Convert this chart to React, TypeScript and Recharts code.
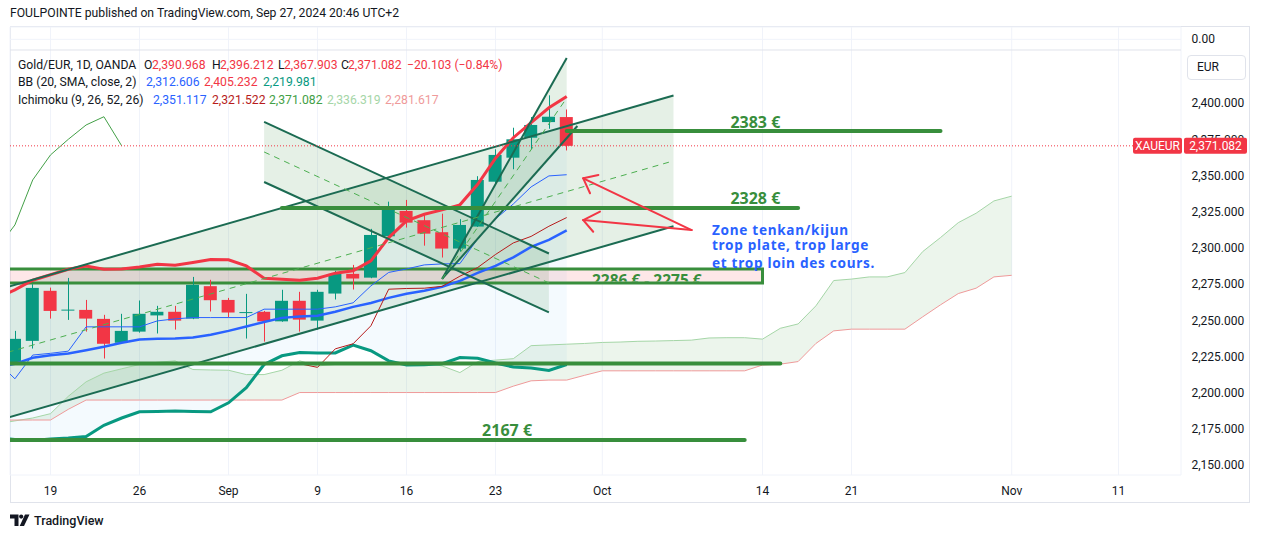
import React from "react";
import {
  ComposedChart,
  Bar,
  Line,
  Area,
  XAxis,
  YAxis,
  CartesianGrid,
  ReferenceLine,
  ReferenceArea,
  ReferenceDot,
} from "recharts";

const FONT = "Roboto, 'Noto Sans', Arial, sans-serif";
const BOLD_FONT = "'Noto Sans', 'Open Sans', sans-serif";
const TXT = "#131722";
const UP = "#089981";
const DOWN = "#F23645";
const LEVEL_GREEN = "#388E3C";
const CH_LINE = "#1b6b52";
const CH_FILL = "rgba(56,142,60,0.13)";

// ---------- data (trading-day index: 0 = Mon 19 Aug 2024) ----------
const candleDays = [-2, -1, 0, 1, 2, 3, 4, 5, 6, 7, 8, 9, 10, 11, 12, 13, 14, 15, 16, 17, 18, 19, 20, 21, 22, 23, 24, 25, 26, 27, 28, 29];
const opens = [2221.6, 2236.3, 2270.9, 2257.5, 2257.7, 2251.5, 2235.0, 2242.7, 2253.9, 2256.4, 2251.7, 2274.1, 2264.6, 2255.8, 2256.4, 2249.8, 2264.0, 2250.3, 2269.0, 2282.6, 2280.0, 2308.6, 2326.1, 2319.7, 2311.4, 2300.1, 2315.3, 2346.3, 2362.9, 2376.7, 2387.5, 2390.968];
const highs = [2243.2, 2275.5, 2273.1, 2279.8, 2264.6, 2254.3, 2255.0, 2264.2, 2260.5, 2260.5, 2280.5, 2278.5, 2266.0, 2268.8, 2257.0, 2271.6, 2270.2, 2271.6, 2284.7, 2288.8, 2313.7, 2332.5, 2333.7, 2323.8, 2324.2, 2320.4, 2350.1, 2368.7, 2383.6, 2391.0, 2406.0, 2396.212];
const lows = [2219.8, 2231.0, 2251.7, 2250.8, 2242.7, 2224.1, 2234.5, 2242.0, 2241.4, 2244.1, 2251.3, 2256.6, 2252.4, 2237.9, 2235.8, 2249.5, 2242.7, 2244.1, 2264.9, 2271.8, 2279.6, 2308.0, 2314.6, 2302.1, 2293.9, 2298.0, 2315.0, 2344.1, 2354.9, 2368.7, 2382.9, 2367.903];
const closes = [2237.7, 2272.9, 2257.0, 2257.9, 2251.7, 2234.3, 2243.2, 2255.0, 2256.4, 2250.3, 2275.0, 2264.4, 2255.9, 2256.2, 2249.8, 2264.0, 2251.0, 2270.2, 2282.6, 2279.4, 2309.5, 2327.5, 2318.0, 2310.4, 2300.1, 2316.4, 2347.5, 2364.8, 2375.6, 2385.5, 2391.2, 2371.082];

const indDays = [-3, -2, -1, 0, 1, 2, 3, 4, 5, 6, 7, 8, 9, 10, 11, 12, 13, 14, 15, 16, 17, 18, 19, 20, 21, 22, 23, 24, 25, 26, 27, 28, 29];
const bbUpper = [2266, 2271.5, 2278.2, 2282, 2285.8, 2288.1, 2285.8, 2286, 2287.4, 2289.3, 2288.5, 2290.5, 2292.5, 2292.3, 2288.1, 2279.6, 2278.9, 2278.2, 2279.6, 2283.1, 2284.7, 2291.6, 2307.7, 2319.2, 2323.8, 2326.8, 2330.3, 2344.5, 2362.5, 2376.7, 2387.1, 2397.4, 2405.232];
const bbBasis = [2218, 2220.4, 2224.6, 2226.3, 2227.6, 2229.8, 2232.2, 2235, 2237.2, 2237.7, 2238, 2238.7, 2240.5, 2243.2, 2246.2, 2249.4, 2252.2, 2253.1, 2253.6, 2256.4, 2259.8, 2262.5, 2266.0, 2268.8, 2270.9, 2273.6, 2277.8, 2283.3, 2288.1, 2294.0, 2301.2, 2306.1, 2312.606];
const bbLower = [2169, 2168.2, 2167.5, 2168.5, 2169.2, 2170.2, 2178, 2183, 2187.3, 2187.5, 2187.8, 2187.5, 2187.3, 2193.5, 2204, 2220, 2226, 2228.3, 2228, 2228, 2233.4, 2229.5, 2222.5, 2219.6, 2219.8, 2220.5, 2224.8, 2224.3, 2221, 2218.2, 2217.5, 2215.8, 2219.981];
const tenkan = [2222, 2210.1, 2226.5, 2227.7, 2229.2, 2246.0, 2246.0, 2246.0, 2246.0, 2250.1, 2251.5, 2252.4, 2252.4, 2252.4, 2252.4, 2258.2, 2258.2, 2258.2, 2258.2, 2259.8, 2262.6, 2274.3, 2283.6, 2286.0, 2288.8, 2289.5, 2289.7, 2306.8, 2320.6, 2330.9, 2342.7, 2350.3, 2351.117];
const kijun = [2220.5, 2220.5, 2220.5, 2220.5, 2220.5, 2220.5, 2220.5, 2220.5, 2220.5, 2220.5, 2220.5, 2220.5, 2220.5, 2220.5, 2220.5, 2220.5, 2220.5, 2220.5, 2218, 2230.8, 2234.3, 2246.7, 2272, 2272.5, 2272.7, 2274, 2281, 2287, 2296, 2304, 2308.5, 2315.5, 2321.522];

const lagDays = [-3, -2, -1, 0, 1, 2, 3, 4];
const lagging = [2300.1, 2316.4, 2347.5, 2364.8, 2375.6, 2385.5, 2391.2, 2371.082];

const cloudDays = [-3, -2, -1, 0, 1, 2, 3, 4, 5, 6, 7, 8, 9, 10, 11, 12, 13, 14, 15, 16, 17, 18, 19, 20, 21, 22, 23, 24, 25, 26, 27, 28, 29, 30, 31, 32, 33, 34, 35, 36, 37, 38, 39, 40, 41, 42, 43, 44, 45, 46, 47, 48, 49, 50, 51, 52, 53, 54];
const spanA = [2179, 2181, 2183, 2186, 2198, 2208, 2214, 2217, 2220, 2221.5, 2222.5, 2216.5, 2216.2, 2216, 2213, 2213, 2216, 2222.5, 2219, 2220, 2220, 2220.5, 2220.5, 2221, 2221, 2219, 2214.4, 2222, 2223, 2224, 2233, 2233.5, 2234, 2234.5, 2235.2, 2235.5, 2236, 2236.2, 2236.5, 2236.8, 2238.3, 2238.5, 2238.5, 2237.5, 2245, 2248, 2260.5, 2278, 2279, 2280.5, 2280.5, 2283.5, 2298, 2307.7, 2318, 2324.5, 2333, 2336.319];
const spanB = [2181.6, 2181.6, 2181.6, 2181.6, 2189, 2195.4, 2195.4, 2195.4, 2195.4, 2195.4, 2195.4, 2195.4, 2195.4, 2195.4, 2195.4, 2195.4, 2195.4, 2200.6, 2200.6, 2200.6, 2200.6, 2200.6, 2200.6, 2200.6, 2200.6, 2200.6, 2200.6, 2200.6, 2200.6, 2205, 2208.7, 2209.2, 2209.2, 2212.5, 2215.6, 2215.6, 2215.6, 2215.6, 2215.6, 2215.6, 2215.6, 2215.6, 2215.6, 2219.6, 2220.2, 2222, 2234.5, 2243.2, 2244.4, 2244.4, 2244.4, 2244.4, 2252.9, 2261.2, 2269, 2272.7, 2280.5, 2281.617];

const xTicks = [0, 5, 10, 15, 20, 25, 31, 40, 45, 54, 60];
const xTickLabels = ["19", "26", "Sep", "9", "16", "23", "Oct", "14", "21", "Nov", "11"];
const yTicks = [2150, 2175, 2200, 2225, 2250, 2275, 2300, 2325, 2350, 2375, 2400];
const lastPrice = 2371.082;
const upperPaneZero = 2444.7;
const paneSeparator = 2437.32;

// ---------- drawings (day index, price) ----------
const bigChannelDays = [-3, 35];
const bigChannelUpper = [2271.5, 2405.9];
const bigChannelLower = [2181.1, 2315.5];
const descChannelDays = [12, 28];
const descChannelUpper = [2387.6, 2296.7];
const descChannelLower = [2346.1, 2256.0];
const steepFillDays = [22, 29];
const steepFillUpper = [2279.1, 2431.8];
const steepFillLower = [2279.1, 2376.5];
const steepUpperLine = [22, 2279.1, 29, 2431.8];
const steepLowerLine = [22, 2279.1, 29.6, 2384.8];

const levelPrices = [2381.3, 2328.1, 2220.7, 2167.8];
const levelFrom = [29, 13, -3, -3];
const levelTo = [50, 42, 41, 39];
const levelLabels = ["2383 €", "2328 €", "", "2167 €"];
const levelLabelDay = [39.6, 39.6, 0, 25.65];
const levelLabelPrice = [2387.6, 2335.0, 0, 2174.9];

const zoneLow = 2276.3;
const zoneHigh = 2286.0;
const zoneFrom = -3;
const zoneTo = 40;
const zoneLabel = "2286 € - 2275 €";
const zoneLabelDay = 33.5;
const zoneLabelPrice = 2278.6;

const noteLines = ["Zone tenkan/kijun", "trop plate, trop large", "et trop loin des cours."];
const noteDay = 37.16;
const notePrices = [2313.6, 2302.6, 2290.8];

// arrows: [tailDay, tailPrice, tipDay, tipPrice, wing1Day, wing1Price, wing2Day, wing2Price]
const arrows = [
  [36.02, 2312.9, 29.93, 2348.65, 30.78, 2350.9, 30.31, 2338.3],
  [36.02, 2312.9, 29.93, 2319.8, 30.87, 2325.6, 30.49, 2311.7],
];

// ---------- build chart rows ----------
type Row = { d: number; [k: string]: any };
const rowMap = new Map<number, Row>();
const rowAt = (d: number): Row => {
  let r = rowMap.get(d);
  if (!r) {
    r = { d };
    rowMap.set(d, r);
  }
  return r;
};
candleDays.forEach((d, k) => {
  const r = rowAt(d);
  r.o = opens[k];
  r.h = highs[k];
  r.l = lows[k];
  r.c = closes[k];
  r.hl = [lows[k], highs[k]];
});
indDays.forEach((d, k) => {
  const r = rowAt(d);
  r.bbU = bbUpper[k];
  r.bbM = bbBasis[k];
  r.bbL = bbLower[k];
  r.bbRange = [bbLower[k], bbUpper[k]];
  r.tenkan = tenkan[k];
  r.kijun = kijun[k];
});
lagDays.forEach((d, k) => {
  rowAt(d).lag = lagging[k];
});
cloudDays.forEach((d, k) => {
  const r = rowAt(d);
  r.spanA = spanA[k];
  r.spanB = spanB[k];
  r.cloud = [Math.min(spanA[k], spanB[k]), Math.max(spanA[k], spanB[k])];
});
const rows = Array.from(rowMap.values()).sort((a, b) => a.d - b.d);

const channelArea = (days: number[], lower: number[], upper: number[]) =>
  days.map((d, k) => ({ d, r: [lower[k], upper[k]] }));
const channelMid = (days: number[], lower: number[], upper: number[]) =>
  days.map((d, k) => ({ d, m: (lower[k] + upper[k]) / 2 }));

const fmt = (v: number) =>
  v.toLocaleString("en-US", { minimumFractionDigits: 3, maximumFractionDigits: 3 });

// ---------- shapes ----------
const Candle = (props: any) => {
  const { x, y, width, height, payload } = props;
  if (!payload || payload.o == null) return null;
  const { o, h, l, c } = payload;
  const top = height >= 0 ? y : y + height;
  const hh = Math.abs(height);
  const py = (p: number) => top + ((h - p) / (h - l)) * hh;
  const color = c >= o ? UP : DOWN;
  const cx = Math.round(x + width / 2) + 0.5;
  const bt = py(Math.max(o, c));
  const bb = py(Math.min(o, c));
  return (
    <g>
      <line x1={cx} x2={cx} y1={top} y2={top + hh} stroke={color} strokeWidth={1} />
      <rect x={x} y={bt} width={width} height={Math.max(1, bb - bt)} fill={color} />
    </g>
  );
};

const textShape =
  (text: string, fill: string, size: number, anchor: "start" | "middle", clip?: string, spacing?: number) =>
  (p: any) =>
    (
      <text
        x={p.cx}
        y={p.cy}
        textAnchor={anchor}
        dominantBaseline="central"
        fill={fill}
        fontSize={size}
        fontWeight={700}
        fontFamily={BOLD_FONT}
        letterSpacing={spacing}
        clipPath={clip ? `url(#${clip})` : undefined}
      >
        {text}
      </text>
    );

// defines a clip region equal to the inside of the zone rectangle (for its label)
const ZoneClip = (p: any) => {
  const { x, y, width, height } = p;
  return (
    <defs>
      <clipPath id="zoneClip">
        <rect x={x} y={y + 1.5} width={width} height={Math.max(0, height - 3)} />
      </clipPath>
    </defs>
  );
};

const AxisLabel = (props: any) => {
  const vb = props.viewBox || {};
  const right = (vb.x || 0) + (vb.width || 0);
  return (
    <text
      x={right + 10.5}
      y={(vb.y || 0) - 0.5}
      dominantBaseline="central"
      fill={TXT}
      fontSize={12}
      fontFamily={FONT}
    >
      {props.text}
    </text>
  );
};

const PriceTag = (props: any) => {
  const vb = props.viewBox || {};
  const right = (vb.x || 0) + (vb.width || 0);
  const y = vb.y || 0;
  return (
    <g fontFamily={FONT} fontSize={12}>
      <rect x={right - 48} y={y - 8} width={49} height={16} rx={2} fill={DOWN} />
      <text x={right - 23.5} y={y + 0.5} textAnchor="middle" dominantBaseline="central" fill="#fff">
        XAUEUR
      </text>
      <rect x={right + 3} y={y - 8} width={63} height={16} rx={2} fill={DOWN} />
      <text x={right + 34.5} y={y + 0.5} textAnchor="middle" dominantBaseline="central" fill="#fff">
        {fmt(lastPrice)}
      </text>
    </g>
  );
};

const legendRows: { x: number; text: string; color: string }[][] = [
  [
    { x: 18, text: "Gold/EUR, 1D, OANDA", color: TXT },
    { x: 144, text: "O", color: TXT },
    { x: 152, text: fmt(opens[opens.length - 1]), color: DOWN },
    { x: 212, text: "H", color: TXT },
    { x: 220, text: fmt(highs[highs.length - 1]), color: DOWN },
    { x: 278, text: "L", color: TXT },
    { x: 284, text: fmt(lows[lows.length - 1]), color: DOWN },
    { x: 341, text: "C", color: TXT },
    { x: 348, text: fmt(closes[closes.length - 1]), color: DOWN },
    { x: 407, text: "−20.103 (−0.84%)", color: DOWN },
  ],
  [
    { x: 18, text: "BB (20, SMA, close, 2)", color: TXT },
    { x: 146, text: fmt(bbBasis[bbBasis.length - 1]), color: "#2962FF" },
    { x: 204, text: fmt(bbUpper[bbUpper.length - 1]), color: DOWN },
    { x: 263, text: fmt(bbLower[bbLower.length - 1]), color: UP },
  ],
  [
    { x: 18, text: "Ichimoku (9, 26, 52, 26)", color: TXT },
    { x: 153, text: fmt(tenkan[tenkan.length - 1]), color: "#2962FF" },
    { x: 212, text: fmt(kijun[kijun.length - 1]), color: "#B71C1C" },
    { x: 269, text: fmt(lagging[lagging.length - 1]), color: "#43A047" },
    { x: 327, text: fmt(spanA[spanA.length - 1]), color: "#A5D6A7" },
    { x: 385, text: fmt(spanB[spanB.length - 1]), color: "#EF9A9A" },
  ],
];
const legendCenters = [65, 82, 100];

const noAnim = { isAnimationActive: false, dot: false, activeDot: false } as const;

export default function App() {
  return (
    <div
      style={{
        position: "absolute",
        left: 0,
        top: 0,
        width: 1261,
        height: 539,
        background: "#fff",
        fontFamily: FONT,
        overflow: "hidden",
      }}
    >
      {/* frame */}
      <div
        style={{
          position: "absolute",
          left: 10,
          top: 26,
          width: 1240,
          height: 477,
          border: "1px solid #E0E3EB",
          boxSizing: "border-box",
        }}
      />
      <div style={{ position: "absolute", left: 0, top: 0 }}>
        <ComposedChart
          width={1261}
          height={539}
          data={rows}
          margin={{ top: 27, right: 10, bottom: 34, left: 10 }}
        >
          <CartesianGrid stroke="#F0F3FA" strokeWidth={1} />
          <XAxis
            dataKey="d"
            type="number"
            domain={[-2.2753, 63.5112]}
            allowDataOverflow
            ticks={xTicks}
            tickFormatter={(v: number) => xTickLabels[xTicks.indexOf(v)] ?? ""}
            axisLine={false}
            tickLine={false}
            tickSize={8}
            tickMargin={3}
            height={30}
            tick={{ fontSize: 12, fill: TXT, fontFamily: FONT }}
            interval={0}
          />
          <YAxis
            orientation="right"
            type="number"
            domain={[2143.61, 2453.21]}
            allowDataOverflow
            ticks={yTicks}
            tick={false}
            axisLine={false}
            tickLine={false}
            width={70}
          />
          {/* top pane chrome */}
          <ReferenceLine y={paneSeparator} stroke="#E0E3EB" strokeWidth={1} ifOverflow="visible" />
          <ReferenceLine y={upperPaneZero} stroke="#F0F3FA" strokeWidth={1} ifOverflow="visible" label={<AxisLabel text="0.00" />} />

          {/* fills */}
          <Area dataKey="bbRange" stroke="none" fill="#2196F3" fillOpacity={0.05} {...noAnim} />
          <Area dataKey="cloud" stroke="none" fill="#43A047" fillOpacity={0.1} {...noAnim} />
          <Area data={channelArea(bigChannelDays, bigChannelLower, bigChannelUpper)} dataKey="r" stroke="none" fill={CH_FILL} fillOpacity={1} {...noAnim} />
          <Area data={channelArea(descChannelDays, descChannelLower, descChannelUpper)} dataKey="r" stroke="none" fill={CH_FILL} fillOpacity={1} {...noAnim} />
          <Area data={channelArea(steepFillDays, steepFillLower, steepFillUpper)} dataKey="r" stroke="none" fill={CH_FILL} fillOpacity={1} {...noAnim} />

          {/* ichimoku cloud edges */}
          <Line dataKey="spanA" stroke="#A5D6A7" strokeWidth={1} {...noAnim} />
          <Line dataKey="spanB" stroke="#EF9A9A" strokeWidth={1} {...noAnim} />

          {/* candles */}
          <Bar dataKey="hl" barSize={13} shape={<Candle />} isAnimationActive={false} />

          {/* Bollinger */}
          <Line dataKey="bbU" stroke="#F23645" strokeWidth={3} {...noAnim} />
          <Line dataKey="bbM" stroke="#2962FF" strokeWidth={2.5} {...noAnim} />
          <Line dataKey="bbL" stroke="#089981" strokeWidth={3} {...noAnim} />

          {/* ichimoku lines */}
          <Line dataKey="tenkan" stroke="#2962FF" strokeWidth={1} {...noAnim} />
          <Line dataKey="kijun" stroke="#B71C1C" strokeWidth={1} {...noAnim} />
          <Line dataKey="lag" stroke="#43A047" strokeWidth={1} {...noAnim} />

          {/* channel lines */}
          {[
            [bigChannelDays, bigChannelLower, bigChannelUpper],
            [descChannelDays, descChannelLower, descChannelUpper],
          ].map(([days, lo, hi], k) => (
            <React.Fragment key={"ch" + k}>
              <ReferenceLine segment={[{ x: days[0], y: hi[0] }, { x: days[1], y: hi[1] }]} stroke={CH_LINE} strokeWidth={2} ifOverflow="hidden" />
              <ReferenceLine segment={[{ x: days[0], y: lo[0] }, { x: days[1], y: lo[1] }]} stroke={CH_LINE} strokeWidth={2} ifOverflow="hidden" />
            </React.Fragment>
          ))}
          {[steepUpperLine, steepLowerLine].map((s, k) => (
            <ReferenceLine key={"st" + k} segment={[{ x: s[0], y: s[1] }, { x: s[2], y: s[3] }]} stroke={CH_LINE} strokeWidth={2} ifOverflow="hidden" />
          ))}
          <Line data={channelMid(bigChannelDays, bigChannelLower, bigChannelUpper)} dataKey="m" stroke="#4CAF50" strokeWidth={1} strokeDasharray="6 5" {...noAnim} />
          <Line data={channelMid(descChannelDays, descChannelLower, descChannelUpper)} dataKey="m" stroke="#4CAF50" strokeWidth={1} strokeDasharray="6 5" {...noAnim} />
          <Line data={channelMid(steepFillDays, steepFillLower, steepFillUpper)} dataKey="m" stroke="#4CAF50" strokeWidth={1} strokeDasharray="6 5" {...noAnim} />

          {/* zone rectangle */}
          <ReferenceArea
            x1={zoneFrom}
            x2={zoneTo}
            y1={zoneLow}
            y2={zoneHigh}
            fill="rgba(242,54,69,0.12)"
            fillOpacity={1}
            stroke={LEVEL_GREEN}
            strokeWidth={3}
            ifOverflow="hidden"
          />
          <ReferenceArea
            x1={zoneFrom}
            x2={zoneTo}
            y1={zoneLow}
            y2={zoneHigh}
            ifOverflow="visible"
            shape={<ZoneClip />}
          />
          <ReferenceDot
            x={zoneLabelDay}
            y={zoneLabelPrice}
            r={0}
            ifOverflow="visible"
            shape={textShape(zoneLabel, LEVEL_GREEN, 15.5, "middle", "zoneClip")}
          />

          {/* horizontal levels */}
          {levelPrices.map((p, k) => (
            <ReferenceLine
              key={"lv" + k}
              segment={[{ x: levelFrom[k], y: p }, { x: levelTo[k], y: p }]}
              stroke={LEVEL_GREEN}
              strokeWidth={4}
              strokeLinecap="round"
              ifOverflow="hidden"
            />
          ))}
          {levelLabels.map((t, k) =>
            t ? (
              <ReferenceDot
                key={"lt" + k}
                x={levelLabelDay[k]}
                y={levelLabelPrice[k]}
                r={0}
                ifOverflow="visible"
                shape={textShape(t, LEVEL_GREEN, 16, "middle")}
              />
            ) : null
          )}

          {/* arrows */}
          {arrows.map((a, k) => (
            <React.Fragment key={"ar" + k}>
              <ReferenceLine segment={[{ x: a[0], y: a[1] }, { x: a[2], y: a[3] }]} stroke={DOWN} strokeWidth={2} strokeLinecap="round" ifOverflow="visible" />
              <ReferenceLine segment={[{ x: a[2], y: a[3] }, { x: a[4], y: a[5] }]} stroke={DOWN} strokeWidth={2} strokeLinecap="round" ifOverflow="visible" />
              <ReferenceLine segment={[{ x: a[2], y: a[3] }, { x: a[6], y: a[7] }]} stroke={DOWN} strokeWidth={2} strokeLinecap="round" ifOverflow="visible" />
            </React.Fragment>
          ))}

          {/* note */}
          {noteLines.map((t, k) => (
            <ReferenceDot
              key={"nt" + k}
              x={noteDay}
              y={notePrices[k]}
              r={0}
              ifOverflow="visible"
              shape={textShape(t, "#2962FF", 13.6, "start", undefined, 0.7)}
            />
          ))}

          {/* price scale labels */}
          {yTicks.map((t) => (
            <ReferenceLine key={"yl" + t} y={t} stroke="none" label={<AxisLabel text={fmt(t)} />} />
          ))}

          {/* last price */}
          <ReferenceLine y={lastPrice} stroke={DOWN} strokeWidth={1} strokeDasharray="1 2" label={<PriceTag />} />
        </ComposedChart>
      </div>

      {/* title */}
      <div style={{ position: "absolute", left: 10, top: 6, fontSize: 12.2, color: TXT, whiteSpace: "nowrap" }}>
        FOULPOINTE published on TradingView.com, Sep 27, 2024 20:46 UTC+2
      </div>

      {/* legend */}
      {legendRows.map((row, r) =>
        row.map((it, k) => (
          <div
            key={r + "-" + k}
            style={{
              position: "absolute",
              left: it.x,
              top: legendCenters[r] - 7,
              lineHeight: "14px",
              fontSize: 12.2,
              color: it.color,
              whiteSpace: "nowrap",
            }}
          >
            {it.text}
          </div>
        ))
      )}

      {/* currency box */}
      <div
        style={{
          position: "absolute",
          left: 1187,
          top: 55,
          width: 59,
          height: 25,
          border: "1px solid #E0E3EB",
          borderRadius: 4,
          boxSizing: "border-box",
          fontSize: 12,
          color: TXT,
          lineHeight: "23px",
          paddingLeft: 9,
        }}
      >
        EUR
      </div>

      {/* watermark */}
      <div style={{ position: "absolute", left: 10, top: 513, display: "flex", alignItems: "center", gap: 4 }}>
        <svg width={20} height={13} viewBox="0 0 20 13">
          <path d="M0 0.5h8.5v11.5h-4v-7.5h-4.5z" fill={TXT} />
          <circle cx={11.2} cy={2.6} r={2.1} fill={TXT} />
          <path d="M15 0.5h4.5l-5.5 11.5h-4.3z" fill={TXT} />
        </svg>
        <span style={{ fontSize: 12.5, color: TXT, fontWeight: 500 }}>TradingView</span>
      </div>
    </div>
  );
}
